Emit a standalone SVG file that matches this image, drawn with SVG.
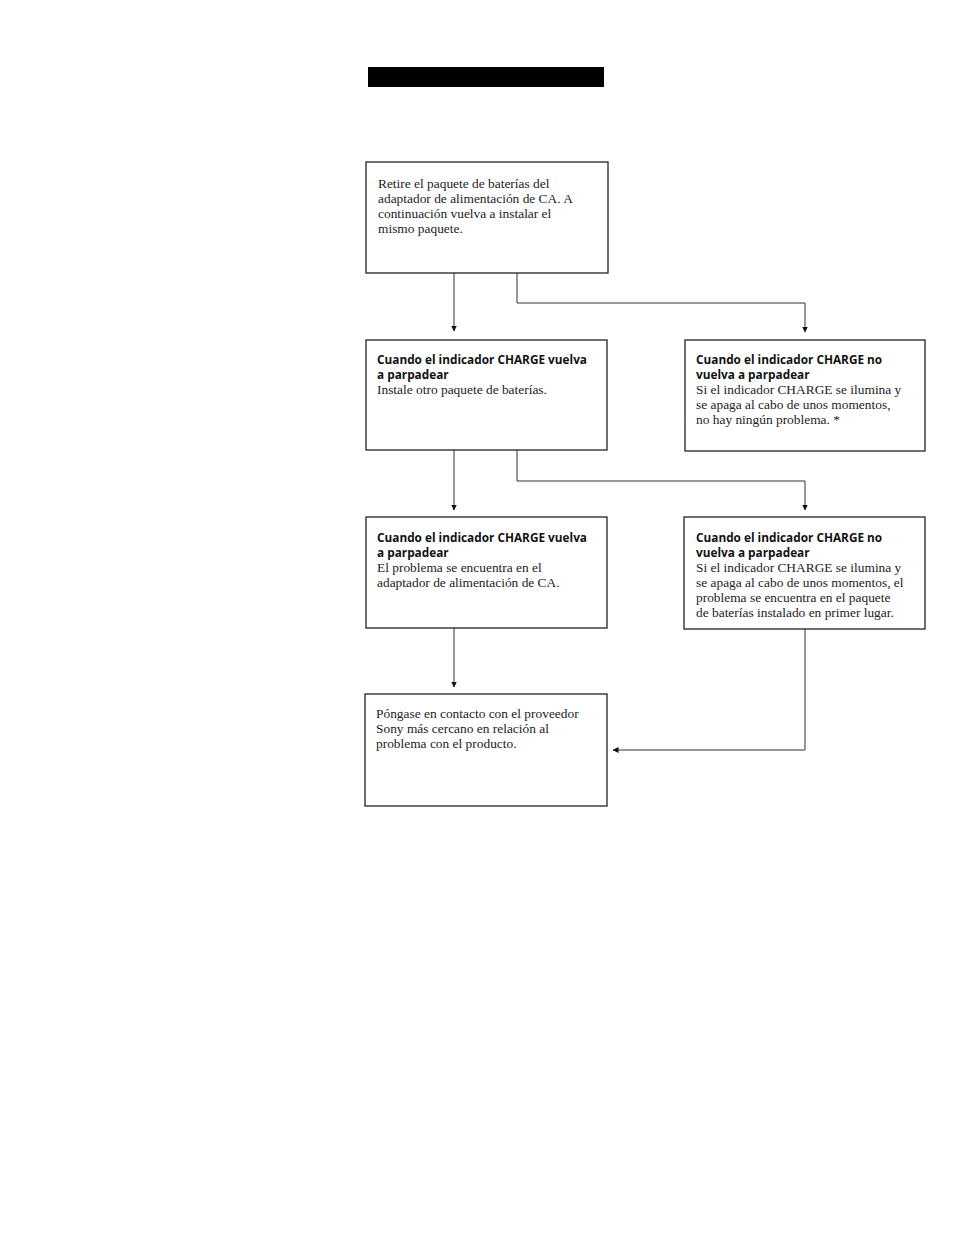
<svg xmlns="http://www.w3.org/2000/svg" width="954" height="1235" viewBox="0 0 954 1235">
<style>
.box{fill:#fff;stroke:#222;stroke-width:1.3}
.t{font-family:"Liberation Serif",serif;font-size:13.4px;fill:#222}
.b{font-family:"Open Sans","Liberation Sans",sans-serif;font-size:11.8px;font-weight:bold;fill:#111}
.c{fill:none;stroke:#333;stroke-width:1}
</style>
<defs>
<marker id="ah" markerWidth="6" markerHeight="7" refX="5.5" refY="3" orient="auto" markerUnits="userSpaceOnUse"><path d="M0,0 L6,3 L0,6 z" fill="#111"/></marker>
</defs>
<rect width="954" height="1235" fill="#fff"/>
<rect x="368" y="67" width="236" height="20" fill="#000"/>
<g id="connectors">
<path class="c" d="M454,273 V331" marker-end="url(#ah)"/>
<path class="c" d="M517,273 V303 H805 V332" marker-end="url(#ah)"/>
<path class="c" d="M454,450 V510" marker-end="url(#ah)"/>
<path class="c" d="M517,450 V481 H805 V510" marker-end="url(#ah)"/>
<path class="c" d="M454,628 V687" marker-end="url(#ah)"/>
<path class="c" d="M805,629 V750 H613" marker-end="url(#ah)"/>
</g>
<g id="n1">
<rect class="box" x="366" y="162" width="242" height="111"/>
<text class="t" x="378" y="188">Retire el paquete de baterías del</text>
<text class="t" x="378" y="203">adaptador de alimentación de CA. A</text>
<text class="t" x="378" y="218">continuación vuelva a instalar el</text>
<text class="t" x="378" y="233">mismo paquete.</text>
</g>
<g id="n2">
<rect class="box" x="366" y="340" width="241" height="110"/>
<text class="b" x="377" y="364">Cuando el indicador CHARGE vuelva</text>
<text class="b" x="377" y="379">a parpadear</text>
<text class="t" x="377" y="394">Instale otro paquete de baterías.</text>
</g>
<g id="n3">
<rect class="box" x="685" y="340" width="240" height="111"/>
<text class="b" x="696" y="364">Cuando el indicador CHARGE no</text>
<text class="b" x="696" y="379">vuelva a parpadear</text>
<text class="t" x="696" y="394">Si el indicador CHARGE se ilumina y</text>
<text class="t" x="696" y="409">se apaga al cabo de unos momentos,</text>
<text class="t" x="696" y="424">no hay ningún problema. *</text>
</g>
<g id="n4">
<rect class="box" x="366" y="517" width="241" height="111"/>
<text class="b" x="377" y="542">Cuando el indicador CHARGE vuelva</text>
<text class="b" x="377" y="557">a parpadear</text>
<text class="t" x="377" y="572">El problema se encuentra en el</text>
<text class="t" x="377" y="587">adaptador de alimentación de CA.</text>
</g>
<g id="n5">
<rect class="box" x="684" y="517" width="241" height="112"/>
<text class="b" x="696" y="542">Cuando el indicador CHARGE no</text>
<text class="b" x="696" y="557">vuelva a parpadear</text>
<text class="t" x="696" y="572">Si el indicador CHARGE se ilumina y</text>
<text class="t" x="696" y="587">se apaga al cabo de unos momentos, el</text>
<text class="t" x="696" y="602">problema se encuentra en el paquete</text>
<text class="t" x="696" y="617">de baterías instalado en primer lugar.</text>
</g>
<g id="n6">
<rect class="box" x="365" y="694" width="242" height="112"/>
<text class="t" x="376" y="718">Póngase en contacto con el proveedor</text>
<text class="t" x="376" y="733">Sony más cercano en relación al</text>
<text class="t" x="376" y="748">problema con el producto.</text>
</g>
</svg>
